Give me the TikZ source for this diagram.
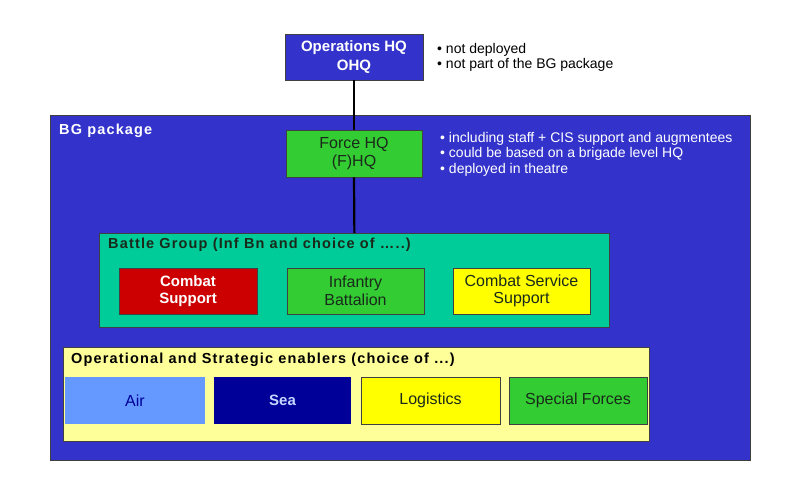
\documentclass[tikz,border=0pt]{standalone}
\usepackage{fontspec}
\setmainfont{Liberation Sans}
\usetikzlibrary{positioning}
\definecolor{pkgblue}{HTML}{3333CC}
\definecolor{hqgreen}{HTML}{33CC33}
\definecolor{bgteal}{HTML}{00CC99}
\definecolor{csred}{HTML}{CC0000}
\definecolor{cssyellow}{HTML}{FFFF00}
\definecolor{enabyellow}{HTML}{FFFF99}
\definecolor{airblue}{HTML}{6699FF}
\definecolor{seanavy}{HTML}{000099}
\definecolor{darktext}{HTML}{1A2A1A}

\begin{document}
\begin{tikzpicture}[x=1pt, y=-1pt,
    unit/.style={draw=black!75, line width=0.8pt, align=center, inner sep=0pt,
      minimum width=138, minimum height=46, text=darktext,
      font=\fontsize{16}{17.5}\selectfont},
    whiteunit/.style={unit, text=white, font=\bfseries\fontsize{15}{17.5}\selectfont},
    frame/.style={draw=black!75, line width=0.8pt, inner sep=0pt, anchor=north west},
    caption/.style={anchor=west, inner sep=0pt,
      font=\bfseries\fontsize{14.5}{16}\selectfont\addfontfeature{LetterSpace=8}},
    remark/.style={anchor=north west, align=left, inner sep=0pt,
      font=\fontsize{14}{15.5}\selectfont}]
      \useasboundingbox[fill=white] (0,0) rectangle (800,483);

      % top level HQ (outside the package)
      \node[whiteunit, fill=pkgblue, font=\bfseries\fontsize{15}{18.5}\selectfont] (ohq) at (354,57) {Operations HQ\\OHQ};
      \node[remark] (ohqnote) at (437,43) {• not deployed\\• not part of the BG package};

      % BG package
      \node[frame, fill=pkgblue, minimum width=700, minimum height=345] (pkg) at (50,115) {};
      \node[caption, text=white] (pkglabel) at (59,131) {BG package};
      \node[unit, fill=hqgreen, minimum width=136, minimum height=47] (fhq) at (354,153.5) {Force HQ\\(F)HQ};
      \node[remark, text=white] (fhqnote) at (440,132) {• including staff + CIS support and augmentees\\• could be based on a brigade level HQ\\• deployed in theatre};

      % battle group
      \node[frame, fill=bgteal, minimum width=510, minimum height=94] (bg) at (99,233) {};
      \node[caption, text=darktext] (bglabel) at (108,245) {Battle Group (Inf Bn and choice of …..)};
      \node[whiteunit, fill=csred] (cs) at (188,291) {Combat\\Support};
      \node[unit, fill=hqgreen, minimum width=137] (inf) at (355.5,291) {Infantry\\Battalion};
      \node[unit, fill=cssyellow, minimum width=137] (css) at (521.5,291) {Combat Service\\Support};

      % enablers
      \node[frame, fill=enabyellow, minimum width=586, minimum height=94] (ops) at (63,347) {};
      \node[caption, text=black] (opslabel) at (71,360) {Operational and Strategic enablers (choice of ...)};
      \node[unit, draw=none, fill=airblue, text=seanavy, minimum width=140, minimum height=47] (air) at (135,400.5) {Air};
      \node[whiteunit, draw=none, fill=seanavy, text=airblue!40, minimum width=137, minimum height=47] (sea) at (282.5,400.5) {Sea};
      \node[unit, fill=cssyellow, minimum width=139, minimum height=47] (log) at (430.5,400.5) {Logistics};
      \node[unit, fill=hqgreen, minimum width=138, minimum height=47] (sf) at (578,400.5) {Special Forces};

      % chain of command
      \draw[line width=2.2pt] (ohq.south) -- (fhq.north);
      \draw[line width=2.2pt] (fhq.south) -- (bg.north);
\end{tikzpicture}
\end{document}
